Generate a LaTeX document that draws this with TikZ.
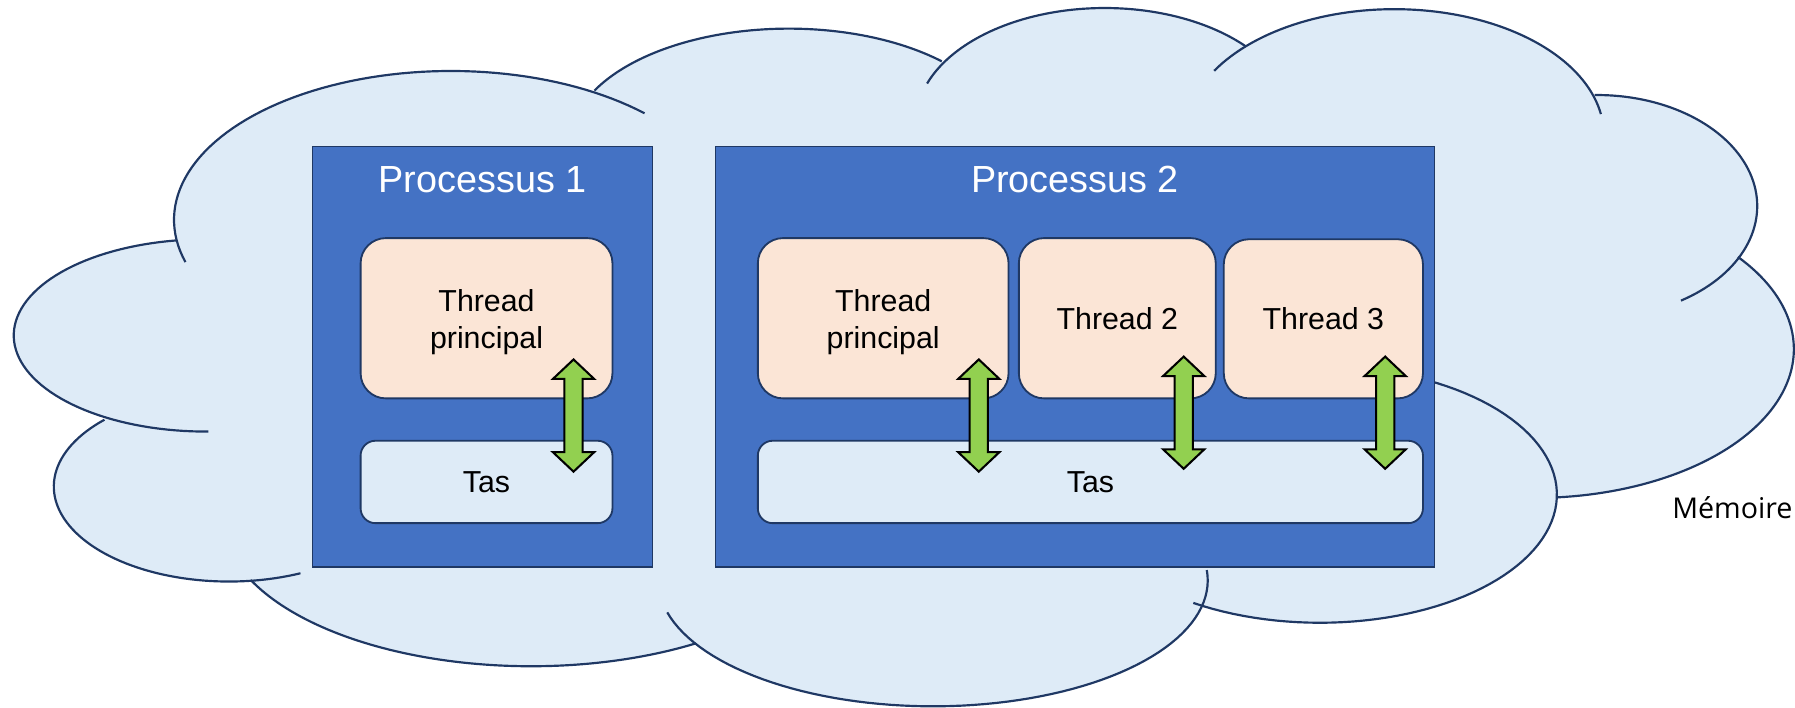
\documentclass[tikz,border=0pt]{standalone}
\usepackage{fontspec}
\setmainfont{Liberation Sans}
\newfontfamily\memfont{Open Sans}
\usetikzlibrary{calc}
\definecolor{cloudfill}{HTML}{DEEBF7}
\definecolor{cloudline}{HTML}{1F3864}
\definecolor{procblue}{HTML}{4472C4}
\definecolor{threadfill}{HTML}{FBE5D6}
\definecolor{arrowgreen}{HTML}{92D050}
\begin{document}
\begin{tikzpicture}[x=1pt,y=-1pt,samples=70,
  cl/.style={draw=cloudline,line width=1.9pt,line join=round},
  procbox/.style={draw=cloudline,fill=procblue,line width=1.6pt,inner sep=0pt},
  titletext/.style={text=white,inner sep=0pt,font=\fontsize{33}{38}\selectfont},
  threadbox/.style={draw=cloudline,fill=threadfill,line width=1.6pt,rounded corners=22pt,inner sep=0pt,align=center,font=\fontsize{26.5}{32}\selectfont},
  threadtext/.style={inner sep=0pt,align=center,font=\fontsize{26.5}{32.5}\selectfont},
  tasbox/.style={draw=cloudline,fill=cloudfill,line width=1.6pt,rounded corners=13pt,inner sep=0pt,font=\fontsize{26.5}{32}\selectfont},
  garrow/.style={draw=black,fill=arrowgreen,line width=1.8pt,line join=miter},
  dblarr/.pic={\draw[garrow] (0,0) -- (18,17) -- (8,17) -- (8,81) -- (18,81) -- (0,98) -- (-18,81) -- (-8,81) -- (-8,17) -- (-18,17) -- cycle;}
]
\useasboundingbox (0,0) rectangle (1568,617.6);
% cloud fill
\fill[cloudfill]
 plot[domain=188.4:59.2] ({394+242*cos(\x)},{192-130*sin(\x)})
 -- plot[domain=152.7:45.6] ({689+191*cos(\x)},{125-100*sin(\x)})
 -- plot[domain=148.6:41.8] ({965+165*cos(\x)},{107-100*sin(\x)})
 -- plot[domain=135.6:17.4] ({1218+183*cos(\x)},{118-110*sin(\x)})
 -- plot[domain=90.8:-27.6] ({1395+140*cos(\x)},{180-97*sin(\x)})
 -- plot[domain=38.3:-84.9] ({1340+227*cos(\x)},{305-130*sin(\x)})
 -- plot[domain=-0.5:-122.3] ({1153+207*cos(\x)},{432-112*sin(\x)})
 -- plot[domain=-10.9:-150.1] ({815+240*cos(\x)},{507-110*sin(\x)})
 -- plot[domain=-57.8:-155.1] ({464+270*cos(\x)},{452-130*sin(\x)})
 -- plot[domain=-81.3:-224.7] ({200+153*cos(\x)},{425-83*sin(\x)})
 -- plot[domain=-120.7:-261] ({180+168*cos(\x)},{293-84*sin(\x)})
 -- cycle;
% cloud lobes
\draw[cl] plot[domain=196.5:45.7] ({394+242*cos(\x)},{192-130*sin(\x)});
\draw[cl] plot[domain=152.7:45.6] ({689+191*cos(\x)},{125-100*sin(\x)});
\draw[cl] plot[domain=160.1:41.8] ({965+165*cos(\x)},{107-100*sin(\x)});
\draw[cl] plot[domain=149.3:9.6] ({1218+183*cos(\x)},{118-110*sin(\x)});
\draw[cl] plot[domain=90.8:-58.4] ({1395+140*cos(\x)},{180-97*sin(\x)});
\draw[cl] plot[domain=38.3:-84.9] ({1340+227*cos(\x)},{305-130*sin(\x)});
\draw[cl] plot[domain=63:-122.3] ({1153+207*cos(\x)},{432-112*sin(\x)});
\draw[cl] plot[domain=4.7:-165.3] ({815+240*cos(\x)},{507-110*sin(\x)});
\draw[cl] plot[domain=-57.8:-155.1] ({464+270*cos(\x)},{452-130*sin(\x)});
\draw[cl] plot[domain=-65.9:-224.7] ({200+153*cos(\x)},{425-83*sin(\x)});
\draw[cl] plot[domain=-89.3:-261] ({180+168*cos(\x)},{293-84*sin(\x)});
% processes
\node[procbox,minimum width=297pt,minimum height=367pt] (p1) at (421.5,311.5) {};
\node[procbox,minimum width=628pt,minimum height=367pt] (p2) at (939,311.5) {};
\node[titletext,anchor=base] (t1) at (421.5,168.3) {Processus 1};
\node[titletext,anchor=base] (t2) at (939,168.3) {Processus 2};
% threads and heaps
\node[threadbox,minimum width=220pt,minimum height=140pt] (th1) at (425,278) {};
\node[threadtext] (th1t) at ($(th1.center)+(0,3.5)$) {Thread\\principal};
\node[tasbox,minimum width=220pt,minimum height=72pt] (tas1) at (425,421) {Tas};
\node[threadbox,minimum width=219pt,minimum height=140pt] (th2) at (771.5,278) {};
\node[threadtext] (th2t) at ($(th2.center)+(0,3.5)$) {Thread\\principal};
\node[threadbox,minimum width=172pt,minimum height=140pt] (th3) at (976,278) {Thread 2};
\node[threadbox,minimum width=174pt,minimum height=139pt] (th4) at (1156,278.5) {Thread 3};
\node[tasbox,minimum width=581pt,minimum height=72pt] (tas2) at (952.5,421) {Tas};
% arrows
\coordinate (a1) at (501,314);
\coordinate (a2) at (855,314);
\coordinate (a3) at (1034,311.5);
\coordinate (a4) at (1210,311.5);
\pic at (a1) {dblarr};
\pic at (a2) {dblarr};
\pic at (a3) {dblarr};
\pic at (a4) {dblarr};
% label
\node[font=\memfont\fontsize{25}{30}\selectfont,anchor=base east,inner sep=0pt] (mem) at (1566,453) {Mémoire};
\end{tikzpicture}
\end{document}
